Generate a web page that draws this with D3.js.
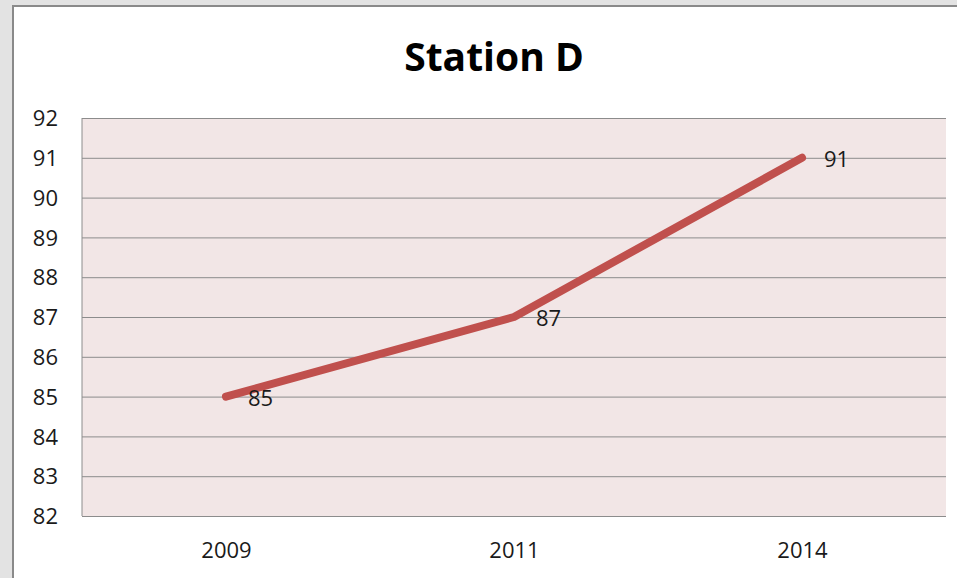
<!DOCTYPE html>
<html><head><meta charset="utf-8">
<script src="https://cdn.jsdelivr.net/npm/d3@7"></script>
<style>html,body{margin:0;padding:0;background:#e3e3e3;overflow:hidden}</style>
</head><body>
<svg id="c" width="957" height="578"></svg>
<script>
const title = "Station D";
const categories = ["2009", "2011", "2014"];
const values = [85, 87, 91];
const yTicks = [82, 83, 84, 85, 86, 87, 88, 89, 90, 91, 92];

const svg = d3.select("#c");
const font = "'Open Sans', sans-serif";
svg.append("rect").attr("x",0).attr("y",0).attr("width",957).attr("height",578).attr("fill","#e3e3e3");
svg.append("rect").attr("x",13).attr("y",6).attr("width",1000).attr("height",700)
  .attr("fill","#ffffff").attr("stroke","#8a8a8a").attr("stroke-width",2);

const L = 82, R = 946, T = 118, B = 516;
const x = d3.scalePoint().domain(categories).range([L, R]).padding(0.5);
const y = d3.scaleLinear().domain([82, 92]).range([B, T]);

svg.append("rect").attr("x",L).attr("y",T).attr("width",R-L).attr("height",B-T).attr("fill","#f2e6e6");

const yAxis = svg.append("g").attr("transform",`translate(${L},0)`)
  .call(d3.axisLeft(y).tickValues(yTicks).tickSize(-(R-L)).tickPadding(24).tickFormat(d3.format("d")));
yAxis.select(".domain").attr("stroke","#8c8c8c").attr("d",`M0,${T}V${B}`);
yAxis.selectAll(".tick line").attr("stroke","#8c8c8c").attr("stroke-width",1);
yAxis.selectAll(".tick text").attr("font-family",font).attr("font-size","22px").attr("fill","#1a1a1a").attr("dy","0.35em");

const xAxis = svg.append("g").attr("transform",`translate(0,${B})`)
  .call(d3.axisBottom(x).tickSize(0).tickPadding(0));
xAxis.select(".domain").remove();
xAxis.selectAll(".tick text").attr("font-family",font).attr("font-size","22px").attr("fill","#1a1a1a")
  .attr("dy",null).attr("y",42);

const line = d3.line().x((d,i)=>x(categories[i])).y(d=>y(d));
svg.append("path").datum(values).attr("d",line).attr("fill","none")
  .attr("stroke","#c0504d").attr("stroke-width",8).attr("stroke-linecap","round").attr("stroke-linejoin","round");

svg.append("g").selectAll("text").data(values).join("text")
  .attr("x",(d,i)=>x(categories[i])+22).attr("y",d=>y(d)+9)
  .attr("font-family",font).attr("font-size","22px").attr("fill","#1a1a1a").text(d=>d);

svg.append("text").attr("x",494).attr("y",71).attr("text-anchor","middle")
  .attr("font-family",font).attr("font-weight","bold").attr("font-size","39px").attr("fill","#000").text(title);
</script>
</body></html>
